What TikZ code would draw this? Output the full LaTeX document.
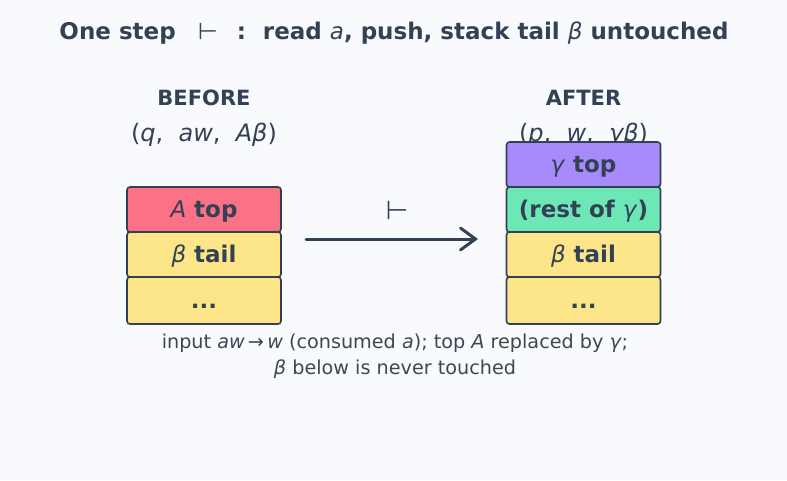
\documentclass[tikz,border=0pt]{standalone}
\usepackage{fontspec}
\setmainfont{DejaVu Sans}
\usetikzlibrary{arrows.meta}
\definecolor{bg}{HTML}{F9FAFD}
\definecolor{ink}{HTML}{334155}
\definecolor{redc}{HTML}{FB7185}
\definecolor{yelc}{HTML}{FDE68A}
\definecolor{purc}{HTML}{A78BFA}
\definecolor{grnc}{HTML}{6EE7B7}
\definecolor{capc}{HTML}{3F4652}
\begin{document}
\begin{tikzpicture}[x=1pt,y=-1pt,
  cell/.style={draw=ink, line width=1.6pt, rounded corners=3pt, minimum width=154pt, minimum height=45pt, inner sep=0pt, text height=17pt, text depth=2pt, text=ink, font=\bfseries\fontsize{23}{26}\selectfont},
  head/.style={text=ink, font=\bfseries\fontsize{21}{24}\selectfont},
  conf/.style={text=ink, font=\fontsize{24}{28}\selectfont},
  capt/.style={text=capc, font=\fontsize{19.2}{26}\selectfont, align=center}]
\fill[bg] (0,0) rectangle (787,480);
\useasboundingbox (0,0) rectangle (787,480);
\node[text=ink, font=\bfseries\fontsize{23}{26}\selectfont] (title) at (394,33) {One step\hspace{22pt}{\mdseries ⊢}\hspace{19pt}:\hspace{17pt}read \textit{\mdseries a}, push, stack tail \textit{\mdseries β} untouched};
% before
\node[head] (bh) at (204,98) {BEFORE};
\node[conf] (bc) at (204,135) {(\textit{q}, \ \textit{aw}, \ \textit{Aβ})};
\node[cell, fill=redc] (b1) at (204,209.5) {\textit{\mdseries A} top};
\node[cell, fill=yelc] (b2) at (204,254.5) {\textit{\mdseries β} tail};
\node[cell, fill=yelc, minimum height=47pt] (b3) at (204,300.5) {...};
% after
\node[head] (ah) at (583.5,98) {AFTER};
\node[conf] (ac) at (583.5,135) {(\textit{p}, \ \textit{w}, \ \textit{γβ})};
\node[cell, fill=purc] (a1) at (583.5,164.5) {\textit{\mdseries γ} top};
\node[cell, fill=grnc] (a2) at (583.5,209.5) {(rest of \textit{\mdseries γ})};
\node[cell, fill=yelc] (a3) at (583.5,254.5) {\textit{\mdseries β} tail};
\node[cell, fill=yelc, minimum height=47pt] (a4) at (583.5,300.5) {...};
% arrow
\coordinate (s) at (306,239);
\coordinate (e) at (478,239);
\draw[ink, line width=3pt, line cap=round, -{Straight Barb[length=15pt,width=22pt,line cap=round]}] (s) -- (e);
\node[text=ink, font=\fontsize{26}{28}\selectfont] (turn) at (397,210) {⊢};
% caption
\node[capt] (cap) at (395,356) {input \textit{aw}\,→\,\textit{w} (consumed \textit{a}); top \textit{A} replaced by \textit{γ};\\\textit{β} below is never touched};
\end{tikzpicture}
\end{document}
